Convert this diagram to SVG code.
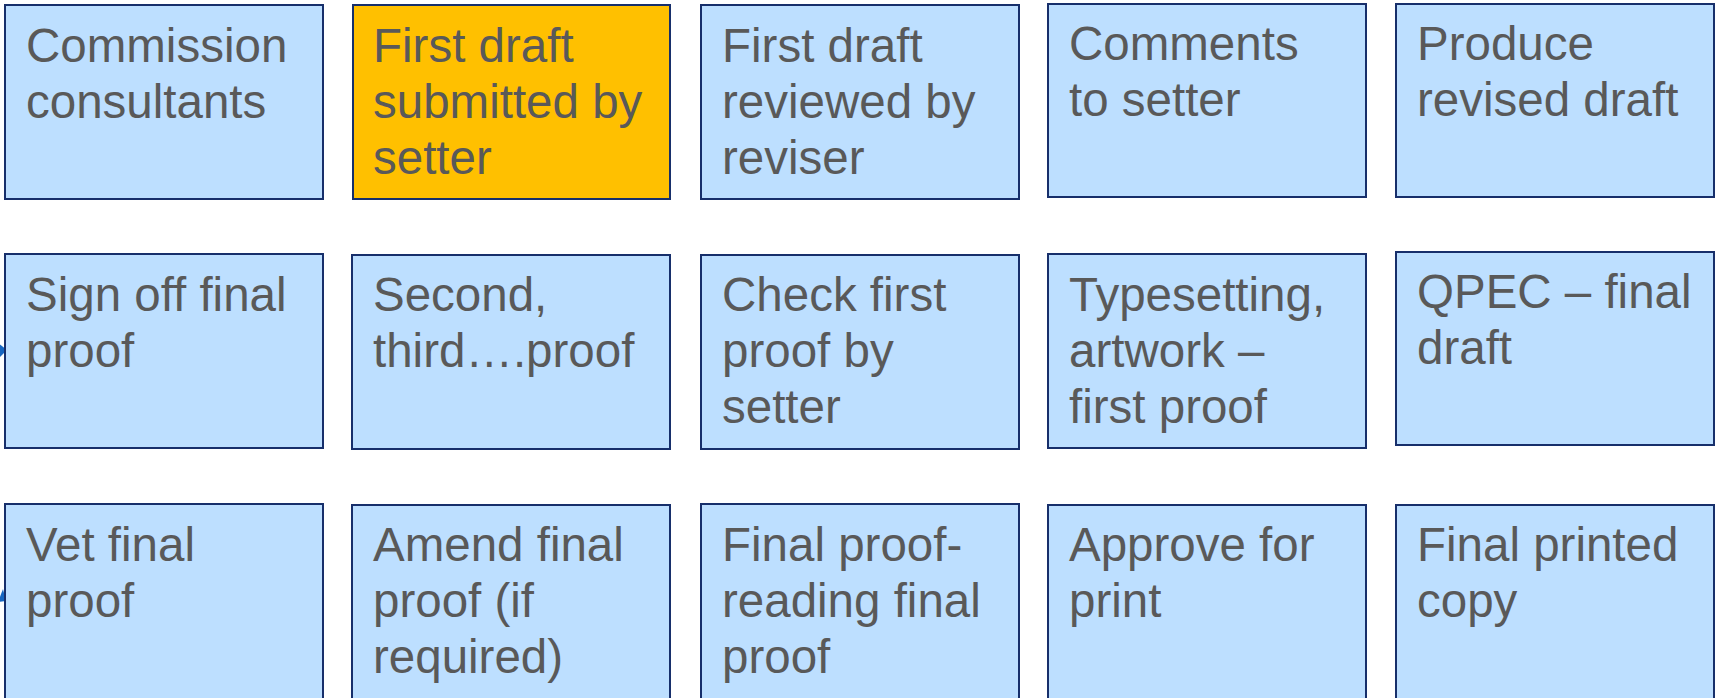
<svg xmlns="http://www.w3.org/2000/svg" width="1715" height="698" viewBox="0 0 1715 698">
<style>
.b{fill:#BDDFFF;stroke:#172F6B;stroke-width:2}
.o{fill:#FFC000;stroke:#172F6B;stroke-width:2}
.t{font-family:"Liberation Sans",Arial,sans-serif;font-size:47.5px;fill:#595959}
.c{fill:none;stroke:#1565C0;stroke-width:3.5}
.h{fill:#1565C0}
</style>
<rect width="1715" height="698" fill="#FFFFFF"/>
<g id="connectors">
<path class="c" d="M-10,354 L1,352"/>
<polygon class="h" points="7,350 -2,343 -1,358"/>
<polygon class="h" points="3,589 -2,602 6,601"/>
<path class="c" d="M1714,98 L1725,98"/>
</g>
<g id="n1"><rect class="b" x="5" y="5" width="318" height="194"/><text class="t" x="26" y="62"><tspan x="26">Commission</tspan><tspan x="26" dy="56">consultants</tspan></text></g>
<g id="n2"><rect class="o" x="353" y="5" width="317" height="194"/><text class="t" x="373" y="62"><tspan x="373">First draft</tspan><tspan x="373" dy="56">submitted by</tspan><tspan x="373" dy="56">setter</tspan></text></g>
<g id="n3"><rect class="b" x="701" y="5" width="318" height="194"/><text class="t" x="722" y="62"><tspan x="722">First draft</tspan><tspan x="722" dy="56">reviewed by</tspan><tspan x="722" dy="56">reviser</tspan></text></g>
<g id="n4"><rect class="b" x="1048" y="4" width="318" height="193"/><text class="t" x="1069" y="60"><tspan x="1069">Comments</tspan><tspan x="1069" dy="56">to setter</tspan></text></g>
<g id="n5"><rect class="b" x="1396" y="4" width="318" height="193"/><text class="t" x="1417" y="60"><tspan x="1417">Produce</tspan><tspan x="1417" dy="56">revised draft</tspan></text></g>
<g id="n6"><rect class="b" x="5" y="254" width="318" height="194"/><text class="t" x="26" y="311"><tspan x="26">Sign off final</tspan><tspan x="26" dy="56">proof</tspan></text></g>
<g id="n7"><rect class="b" x="352" y="255" width="318" height="194"/><text class="t" x="373" y="311"><tspan x="373">Second,</tspan><tspan x="373" dy="56">third….proof</tspan></text></g>
<g id="n8"><rect class="b" x="701" y="255" width="318" height="194"/><text class="t" x="722" y="311"><tspan x="722">Check first</tspan><tspan x="722" dy="56">proof by</tspan><tspan x="722" dy="56">setter</tspan></text></g>
<g id="n9"><rect class="b" x="1048" y="254" width="318" height="194"/><text class="t" x="1069" y="311"><tspan x="1069">Typesetting,</tspan><tspan x="1069" dy="56">artwork –</tspan><tspan x="1069" dy="56">first proof</tspan></text></g>
<g id="n10"><rect class="b" x="1396" y="252" width="318" height="193"/><text class="t" x="1417" y="308"><tspan x="1417">QPEC – final</tspan><tspan x="1417" dy="56">draft</tspan></text></g>
<g id="n11"><rect class="b" x="5" y="504" width="318" height="210"/><text class="t" x="26" y="561"><tspan x="26">Vet final</tspan><tspan x="26" dy="56">proof</tspan></text></g>
<g id="n12"><rect class="b" x="352" y="505" width="318" height="210"/><text class="t" x="373" y="561"><tspan x="373">Amend final</tspan><tspan x="373" dy="56">proof (if</tspan><tspan x="373" dy="56">required)</tspan></text></g>
<g id="n13"><rect class="b" x="701" y="504" width="318" height="210"/><text class="t" x="722" y="561"><tspan x="722">Final proof-</tspan><tspan x="722" dy="56">reading final</tspan><tspan x="722" dy="56">proof</tspan></text></g>
<g id="n14"><rect class="b" x="1048" y="505" width="318" height="210"/><text class="t" x="1069" y="561"><tspan x="1069">Approve for</tspan><tspan x="1069" dy="56">print</tspan></text></g>
<g id="n15"><rect class="b" x="1396" y="505" width="318" height="210"/><text class="t" x="1417" y="561"><tspan x="1417">Final printed</tspan><tspan x="1417" dy="56">copy</tspan></text></g>
</svg>
